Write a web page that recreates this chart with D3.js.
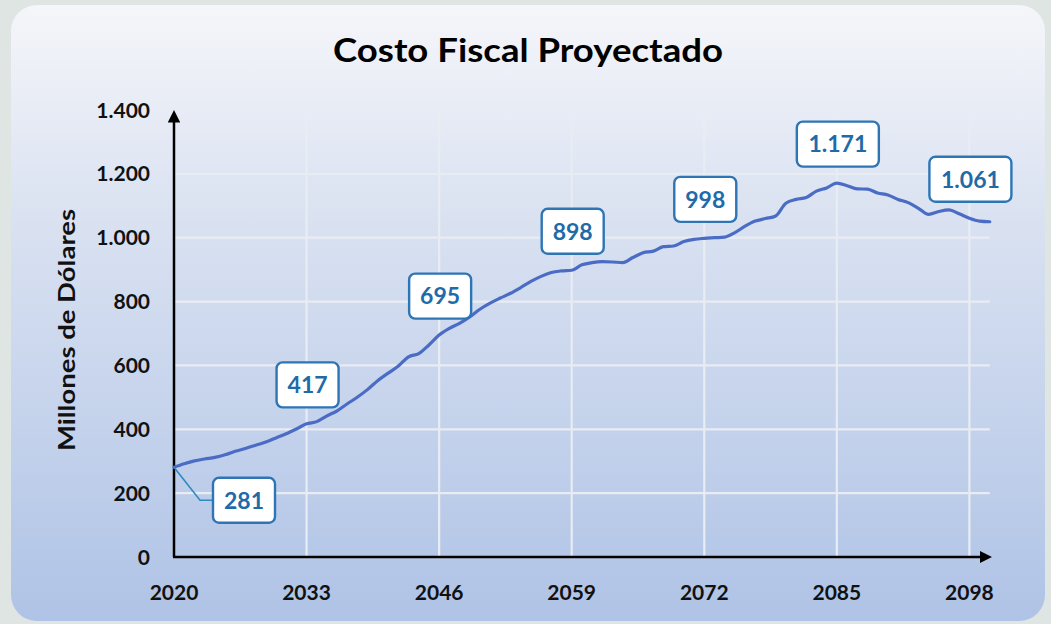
<!DOCTYPE html>
<html>
<head>
<meta charset="utf-8">
<script src="https://cdn.jsdelivr.net/npm/d3@7"></script>
<style>
  html, body { margin: 0; padding: 0; background: #dfe5e2; }
  svg { display: block; }
  text { font-family: Lato, "Open Sans", sans-serif; font-weight: 700; }
</style>
</head>
<body>
<svg id="chart" width="1051" height="624"></svg>
<script>
// ---------- data ----------
const years = d3.range(2020, 2101);
const values = [
  281, 292, 301, 307, 312, 320, 331, 340, 350, 360,
  373, 386, 401, 417, 424, 442, 458, 480, 501, 525,
  553, 576, 598, 627, 637, 664, 695, 716, 732, 752,
  776, 795, 811, 826, 844, 863, 879, 891, 896, 898,
  915, 922, 925, 924, 922, 938, 953, 958, 972, 974,
  988, 995, 998, 1000, 1002, 1016, 1036, 1052, 1060, 1068,
  1108, 1120, 1126, 1146, 1156, 1171, 1163, 1153, 1152, 1140,
  1134, 1120, 1110, 1092, 1073, 1082, 1087, 1075, 1061, 1052,
  1050
];
const xTickYears = [2020, 2033, 2046, 2059, 2072, 2085, 2098];
const yTicks = [0, 200, 400, 600, 800, 1000, 1200, 1400];
const labelYears = [2020, 2033, 2046, 2059, 2072, 2085, 2098];
const labelTexts = ["281", "417", "695", "898", "998", "1.171", "1.061"];
const title = "Costo Fiscal Proyectado";
const yTitle = "Millones de Dólares";

// ---------- layout ----------
const svg = d3.select("#chart");
const W = 1051, H = 624;
const pLeft = 174, pRight = 989.8, pTop = 110, pBottom = 557;

const defs = svg.append("defs");
const grad = defs.append("linearGradient").attr("id", "bg").attr("x1", 0).attr("y1", 0).attr("x2", 0).attr("y2", 1);
grad.append("stop").attr("offset", "0%").attr("stop-color", "#f5f6fa");
grad.append("stop").attr("offset", "30%").attr("stop-color", "#dde4f2");
grad.append("stop").attr("offset", "100%").attr("stop-color", "#afc3e6");

svg.append("rect").attr("width", W).attr("height", H).attr("fill", "#dfe5e2");
svg.append("rect").attr("x", 11).attr("y", 5).attr("width", 1034).attr("height", 616)
  .attr("rx", 26).attr("ry", 26).attr("fill", "url(#bg)");

const x = d3.scaleLinear().domain([2020, 2100]).range([pLeft, pRight]);
const y = d3.scaleLinear().domain([0, 1400]).range([pBottom, pTop]);

// grid
const g = svg.append("g");
g.selectAll(".hg").data(yTicks.filter(d => d > 0)).join("line")
  .attr("x1", pLeft).attr("x2", pRight)
  .attr("y1", d => y(d)).attr("y2", d => y(d))
  .attr("stroke", "#e8ecf3").attr("stroke-width", 2.2);
g.selectAll(".vg").data(xTickYears.filter(d => d > 2020)).join("line")
  .attr("x1", d => x(d)).attr("x2", d => x(d))
  .attr("y1", pTop).attr("y2", pBottom)
  .attr("stroke", "#e8ecf3").attr("stroke-width", 2.2);

// axes with arrows
defs.append("marker").attr("id", "arrow").attr("viewBox", "0 0 10 10")
  .attr("refX", 2).attr("refY", 5).attr("markerWidth", 5).attr("markerHeight", 5)
  .attr("orient", "auto").attr("markerUnits", "strokeWidth")
  .append("path").attr("d", "M0,0 L10,5 L0,10 z").attr("fill", "#000");

svg.append("line").attr("x1", pLeft).attr("y1", pBottom).attr("x2", pLeft).attr("y2", pTop + 10)
  .attr("stroke", "#000").attr("stroke-width", 2.5).attr("marker-end", "url(#arrow)");
svg.append("line").attr("x1", pLeft - 1).attr("y1", pBottom).attr("x2", 982).attr("y2", pBottom)
  .attr("stroke", "#000").attr("stroke-width", 2.5).attr("marker-end", "url(#arrow)");

// tick labels
svg.selectAll(".yt").data(yTicks).join("text")
  .attr("x", 150).attr("y", d => y(d)).attr("dy", "0.36em")
  .attr("text-anchor", "end").attr("font-size", 21).attr("fill", "#111")
  .text(d => d3.format(",")(d).replace(/,/g, "."));
svg.selectAll(".xt").data(xTickYears).join("text")
  .attr("x", d => x(d)).attr("y", 600)
  .attr("text-anchor", "middle").attr("font-size", 21).attr("fill", "#111")
  .text(d => d);

// titles
svg.append("text").attr("x", 528).attr("y", 62).attr("text-anchor", "middle")
  .attr("font-size", 33).attr("fill", "#000")
  .attr("textLength", 390).attr("lengthAdjust", "spacingAndGlyphs").text(title);
svg.append("text").attr("transform", "translate(75,330) rotate(-90)")
  .attr("text-anchor", "middle").attr("font-size", 22).attr("fill", "#111")
  .attr("textLength", 242).attr("lengthAdjust", "spacingAndGlyphs").text(yTitle);

// line
const data = years.map((yr, i) => ({ yr, v: values[i] }));
svg.append("path").datum(data)
  .attr("fill", "none").attr("stroke", "#4a6cc4").attr("stroke-width", 3.2)
  .attr("stroke-linejoin", "round").attr("stroke-linecap", "round")
  .attr("d", d3.line().x(d => x(d.yr)).y(d => y(d.v)).curve(d3.curveMonotoneX));

// data labels
const labels = labelYears.map((yr, i) => ({ yr, t: labelTexts[i], v: values[years.indexOf(yr)] }));
labels.forEach((d, i) => {
  let cx, cy;
  const px = x(d.yr), py = y(d.v);
  if (i === 0) {
    cx = px + 70; cy = py + 33;
    svg.append("polyline")
      .attr("points", [[px, py], [px + 26, py + 33], [cx - 31, py + 33]].map(p => p.join(",")).join(" "))
      .attr("fill", "none").attr("stroke", "#2e8bc0").attr("stroke-width", 1.6);
  } else {
    cx = px + 1; cy = py - 39;
  }
  const wBox = d.t.length > 3 ? 82 : 62;
  const hBox = 45;
  svg.append("rect").attr("x", cx - wBox / 2).attr("y", cy - hBox / 2)
    .attr("width", wBox).attr("height", hBox).attr("rx", 6)
    .attr("fill", "#fff").attr("stroke", "#2e75b6").attr("stroke-width", 2.4);
  svg.append("text").attr("x", cx).attr("y", cy).attr("dy", "0.36em")
    .attr("text-anchor", "middle").attr("font-size", 23).attr("fill", "#1f6aa8").text(d.t);
});
</script>
</body>
</html>
